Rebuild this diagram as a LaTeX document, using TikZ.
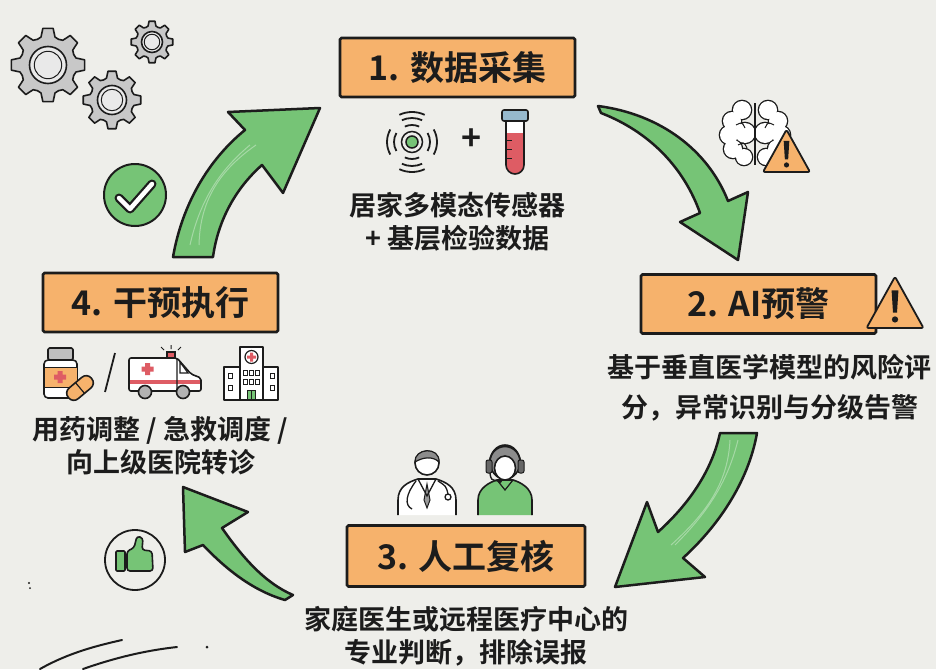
\documentclass[tikz,border=0pt]{standalone}
\usepackage{fontspec}
\setmainfont{Noto Sans CJK SC}[BoldFont={Noto Sans CJK SC Bold}]
\usepackage{tikz}
\usetikzlibrary{positioning}
\usetikzlibrary{shapes}

\definecolor{paper}{RGB}{238,238,234}
\definecolor{ink}{RGB}{28,28,28}
\definecolor{stepfill}{RGB}{246,178,108}
\definecolor{leaf}{RGB}{118,196,118}
\definecolor{steel}{RGB}{200,200,200}
\definecolor{blood}{RGB}{222,92,100}
\definecolor{capblue}{RGB}{150,185,205}

\tikzset{
  gear/.pic={
    \filldraw[fill=steel, draw=ink, line width=1.6pt, line join=round]
      (-14:0.78) \foreach \a in {0,45,...,315} {
        -- (\a-14:0.78) -- (\a-8:1) -- (\a+8:1) -- (\a+14:0.78) -- (\a+22.5:0.75)} -- cycle;
    \filldraw[fill=steel!40, draw=ink, line width=1.6pt] (0,0) circle (0.5);
    \draw[ink, line width=1pt] (0,0) circle (0.37);
  },
  warn/.pic={
    \filldraw[fill=stepfill, draw=ink, line width=1.8pt, line join=round, rounded corners=2pt]
      (-0.5,0) -- (0,0.9) -- (0.5,0) -- cycle;
    \fill[ink] (-0.035,0.27) -- (0.035,0.27) -- (0.06,0.66) -- (-0.06,0.66) -- cycle;
    \fill[ink] (0,0.15) circle (0.055);
  }
}

\begin{document}
\begin{tikzpicture}[x=1pt, y=1pt,
    S/.style={draw=ink, fill=stepfill, line width=2.6pt, rounded corners=1.5pt,
      minimum width=235pt, minimum height=59pt, text=ink,
      font=\bfseries\fontsize{34}{40}\selectfont},
    T/.style={align=center, text=ink, font=\bfseries\fontsize{27}{33}\selectfont},
    flow/.style={fill=leaf, draw=ink, line width=2.5pt, line join=round},
    thin/.style={draw=ink, line width=1.6pt, line join=round}]
    \fill[paper] (0,0) rectangle (936,-669);
    \useasboundingbox (0,0) rectangle (936,-669);

    % four steps of the loop
    \node[S] (s1) at (457.5,-67.5) {1. 数据采集};
    \node[S] (s2) at (758.5,-304) {2. AI预警};
    \node[S, minimum width=238pt, minimum height=61pt] (s3) at (466,-556) {3. 人工复核};
    \node[S] (s4) at (160.5,-302.5) {4. 干预执行};

    \node[T] (d1) [below=90pt of s1] {居家多模态传感器\\+ 基层检验数据};
    \node[T, font=\bfseries\fontsize{27}{40}\selectfont] (d2) [below=16pt of s2, xshift=11pt]
      {基于垂直医学模型的风险评\\分，异常识别与分级告警};
    \node[T] (d3) [below=15pt of s3] {家庭医生或远程医疗中心的\\专业判断，排除误报};
    \node[T] (d4) [below=80pt of s4] {用药调整 / 急救调度 /\\向上级医院转诊};

    % green loop arrows
    \coordinate (tip41) at (320,-108);
    \coordinate (tip12) at (738,-260);
    \coordinate (tip23) at (615,-587);
    \coordinate (tip34) at (183,-487);
    \draw[flow] (173,-257) .. controls (182,-205) and (208,-160) .. (245,-130)
      -- (228,-112) -- (tip41) -- (283,-193) -- (262,-165)
      .. controls (236,-188) and (218,-220) .. (213,-257) -- cycle;
    \draw[flow] (598,-106) .. controls (660,-114) and (708,-150) .. (728,-201)
      -- (748,-192) -- (tip12) -- (680,-222) -- (700,-213)
      .. controls (684,-168) and (650,-132) .. (601,-113) -- cycle;
    \draw[flow] (720,-433) .. controls (712,-470) and (690,-503) .. (658,-532)
      -- (647,-502) -- (tip23) -- (705,-577) -- (683,-558)
      .. controls (716,-528) and (748,-484) .. (757,-433) -- cycle;
    \draw[flow] (222,-528) .. controls (243,-558) and (265,-583) .. (293,-595)
      -- (285,-600) .. controls (250,-590) and (222,-565) .. (203,-545)
      -- (185,-552) -- (tip34) -- (248,-512) -- cycle;
    \foreach \s in {0,1} {
      \draw[white, opacity=0.35, line width=1pt] (190+\s*9,-245) .. controls (200,-200) and (220,-170) .. (250+\s*6,-145);
      \draw[white, opacity=0.35, line width=1pt] (738-\s*8,-440) .. controls (728,-480) and (710,-510) .. (675-\s*4,-545);
    }

    % gears
    \path (48,-65) pic[scale=37] {gear};
    \path (112,-100) pic[scale=29] {gear};
    \path (152,-42) pic[scale=21] {gear};

    % check badge
    \filldraw[fill=leaf, draw=ink, line width=2pt] (135,-195) circle (31);
    \draw[ink, line width=9pt, line cap=round, line join=round] (119,-198) -- (130,-209) -- (152,-184);
    \draw[white, line width=4.5pt, line cap=round, line join=round] (119,-198) -- (130,-209) -- (152,-184);

    % thumbs up badge
    \draw[ink, line width=1.8pt] (135,-560) circle (30);
    \filldraw[fill=leaf, thin, rounded corners=1pt] (116,-551) rectangle (125,-571);
    \filldraw[fill=leaf, thin, rounded corners=3pt] (127,-571) -- (127,-551) -- (134,-548)
      -- (137,-536) -- (143,-538) -- (142,-550) -- (152,-551) -- (153,-571) -- cycle;

    % sensor + test tube
    \filldraw[fill=leaf, draw=ink, line width=1.5pt] (412,-142) circle (6);
    \draw[ink, line width=1.5pt] (412,-142) circle (10.5);
    \foreach \r in {18,25} {
      \draw[ink, line width=1.8pt] (412,-142) ++(150:\r) arc[start angle=150, end angle=210, radius=\r];
      \draw[ink, line width=1.8pt] (412,-142) ++(-30:\r) arc[start angle=-30, end angle=30, radius=\r];
    }
    \foreach \r in {17,24,30} {
      \draw[ink, line width=1.8pt] (412,-142) ++(65:\r) arc[start angle=65, end angle=115, radius=\r];
      \draw[ink, line width=1.8pt] (412,-142) ++(245:\r) arc[start angle=245, end angle=295, radius=\r];
    }
    \node[text=ink, font=\bfseries\fontsize{34}{34}\selectfont] (plus) at (472,-140) {+};
    \fill[white] (506,-121) -- (506,-165) arc[start angle=180, end angle=360, radius=9] -- (524,-121) -- cycle;
    \fill[blood] (506,-133) -- (506,-165) arc[start angle=180, end angle=360, radius=9] -- (524,-133) -- cycle;
    \draw[thin] (506,-121) -- (506,-165) arc[start angle=180, end angle=360, radius=9] -- (524,-121);
    \foreach \y in {-140,-149,-158} \draw[ink, line width=1pt] (507,\y) -- (512,\y);
    \filldraw[fill=capblue, thin, rounded corners=2pt] (502,-110) rectangle (528,-121);

    % brain with alert
    \foreach \x/\y/\r in {742/-110/9, 732/-121/9, 729/-135/9, 733/-149/9, 744/-157/8, 745/-133/10,
        768/-110/9, 778/-121/9, 781/-135/9, 777/-149/9, 766/-157/8, 765/-133/10}
      \draw[ink, line width=2.6pt] (\x,\y) circle (\r);
    \foreach \x/\y/\r in {742/-110/9, 732/-121/9, 729/-135/9, 733/-149/9, 744/-157/8, 745/-133/10,
        768/-110/9, 778/-121/9, 781/-135/9, 777/-149/9, 766/-157/8, 765/-133/10}
      \fill[white] (\x,\y) circle (\r);
    \draw[ink, line width=1.3pt] (755,-103) -- (755,-165);
    \draw[ink, line width=1pt] (736,-125) .. controls (742,-122) .. (745,-128)
      (738,-145) .. controls (744,-142) .. (747,-148) (774,-125) .. controls (768,-122) .. (765,-128);
    \path (786.5,-172) pic[scale=47] {warn};
    \path (895,-328) pic[scale=57] {warn};

    % medicine, ambulance, hospital
    \filldraw[fill=black!25, thin, rounded corners=1.5pt] (48,-348) rectangle (73,-360);
    \filldraw[fill=white, thin, rounded corners=4pt] (44,-360) rectangle (77,-398);
    \filldraw[fill=stepfill, draw=ink, line width=1pt] (44,-367) rectangle (77,-387);
    \fill[blood] (57.5,-371) rectangle (62.5,-383) (54,-374.5) rectangle (66,-379.5);
    \begin{scope}[shift={(80,-388)}, rotate=40]
      \filldraw[fill=stepfill, thin, rounded corners=6.5pt] (-15,-7) rectangle (15,7);
      \draw[ink, line width=1.2pt] (0,-7) -- (0,7);
    \end{scope}
    \draw[ink, line width=1.8pt] (115,-353) -- (105,-392);

    \filldraw[fill=white, thin, rounded corners=2pt] (129,-391) -- (129,-358) -- (177,-358)
      -- (191,-374) -- (201,-378) -- (201,-391) -- cycle;
    \fill[blood] (129.8,-380) rectangle (200.2,-384);
    \draw[ink, line width=1.2pt] (177,-358) -- (177,-391) (180,-362) -- (188,-373) -- (180,-373) -- cycle;
    \fill[blood] (145,-363) rectangle (150,-375) (141.5,-366.5) rectangle (153.5,-371.5);
    \filldraw[fill=blood, draw=ink, line width=1.2pt] (167,-358) rectangle (175,-352);
    \draw[ink, line width=1pt] (171,-349) -- (171,-345) (164,-350) -- (161,-347) (178,-350) -- (181,-347);
    \foreach \x in {145,183} \filldraw[fill=black!30, thin] (\x,-392) circle (6.5);

    \filldraw[fill=white, thin] (224,-367) rectangle (278,-400);
    \filldraw[fill=white, thin] (240,-347) rectangle (263,-400);
    \draw[ink, line width=1.2pt] (251.5,-357) circle (6.5);
    \fill[blood] (250,-352.5) rectangle (253,-361.5) (247,-355.5) rectangle (256,-358.5);
    \foreach \x in {243.5,249.5,255.5} \foreach \y in {-370,-379}
      \draw[ink, line width=1pt] (\x,\y) rectangle ++(4,-5);
    \foreach \x in {228,270} \foreach \y in {-373,-385}
      \draw[ink, line width=1pt] (\x,\y) rectangle ++(4,-5);
    \fill[leaf] (247.5,-390) rectangle (255.5,-399);
    \draw[ink, line width=1pt] (247.5,-399) rectangle (255.5,-390) (251.5,-390) -- (251.5,-399);

    % doctor and call-centre agent
    \filldraw[fill=white, thin] (398,-515) -- (398,-500) .. controls (398,-487) and (408,-482) .. (418,-479)
      -- (436,-479) .. controls (446,-482) and (456,-487) .. (456,-500) -- (456,-515);
    \filldraw[fill=black!40, draw=ink, line width=1pt] (427,-484) -- (424,-500) -- (427,-508) -- (430,-500) -- cycle;
    \draw[ink, line width=1.3pt] (418,-479) -- (427,-496) -- (436,-479);
    \draw[ink, line width=1.3pt] (416,-481) .. controls (406,-494) and (404,-505) .. (412,-509)
      (438,-481) .. controls (446,-486) .. (448,-494);
    \draw[ink, line width=1.3pt] (448,-497) circle (3);
    \filldraw[fill=white, thin] (427,-463) circle (12);
    \filldraw[fill=black!45, draw=ink, line width=1.2pt] (415,-462) .. controls (414,-448) and (440,-446) .. (439,-462)
      .. controls (433,-456) and (423,-457) .. (415,-462) -- cycle;

    \filldraw[fill=leaf, thin] (478,-515) -- (478,-500) .. controls (478,-488) and (490,-482) .. (497,-480)
      -- (513,-480) .. controls (520,-482) and (532,-488) .. (532,-500) -- (532,-515);
    \draw[ink, line width=1.2pt] (497,-480) -- (505,-490) -- (513,-480);
    \filldraw[fill=black!45, thin] (505,-462) ellipse (15 and 17);
    \filldraw[fill=white, thin] (505,-468) ellipse (10.5 and 12);
    \draw[ink, line width=1.6pt] (489,-466) .. controls (489,-440) and (521,-440) .. (521,-466);
    \filldraw[fill=black!60, draw=ink, line width=1pt, rounded corners=2pt] (486,-460) rectangle (492,-473)
      (518,-460) rectangle (524,-473);
    \draw[ink, line width=1.4pt] (490,-473) .. controls (491,-480) .. (499,-481);
    \fill[ink] (500,-481) circle (2);

    % pencil strokes
    \draw[ink, line width=2pt, line cap=round] (40,-669) .. controls (70,-652) and (100,-645) .. (122,-640);
    \draw[ink, line width=2pt, line cap=round] (83,-669) .. controls (120,-656) and (150,-650) .. (177,-647);
    \fill[ink] (207,-647) circle (1.5);
    \fill[ink] (29,-583) circle (1.2) (30,-588) circle (1);
\end{tikzpicture}
\end{document}
